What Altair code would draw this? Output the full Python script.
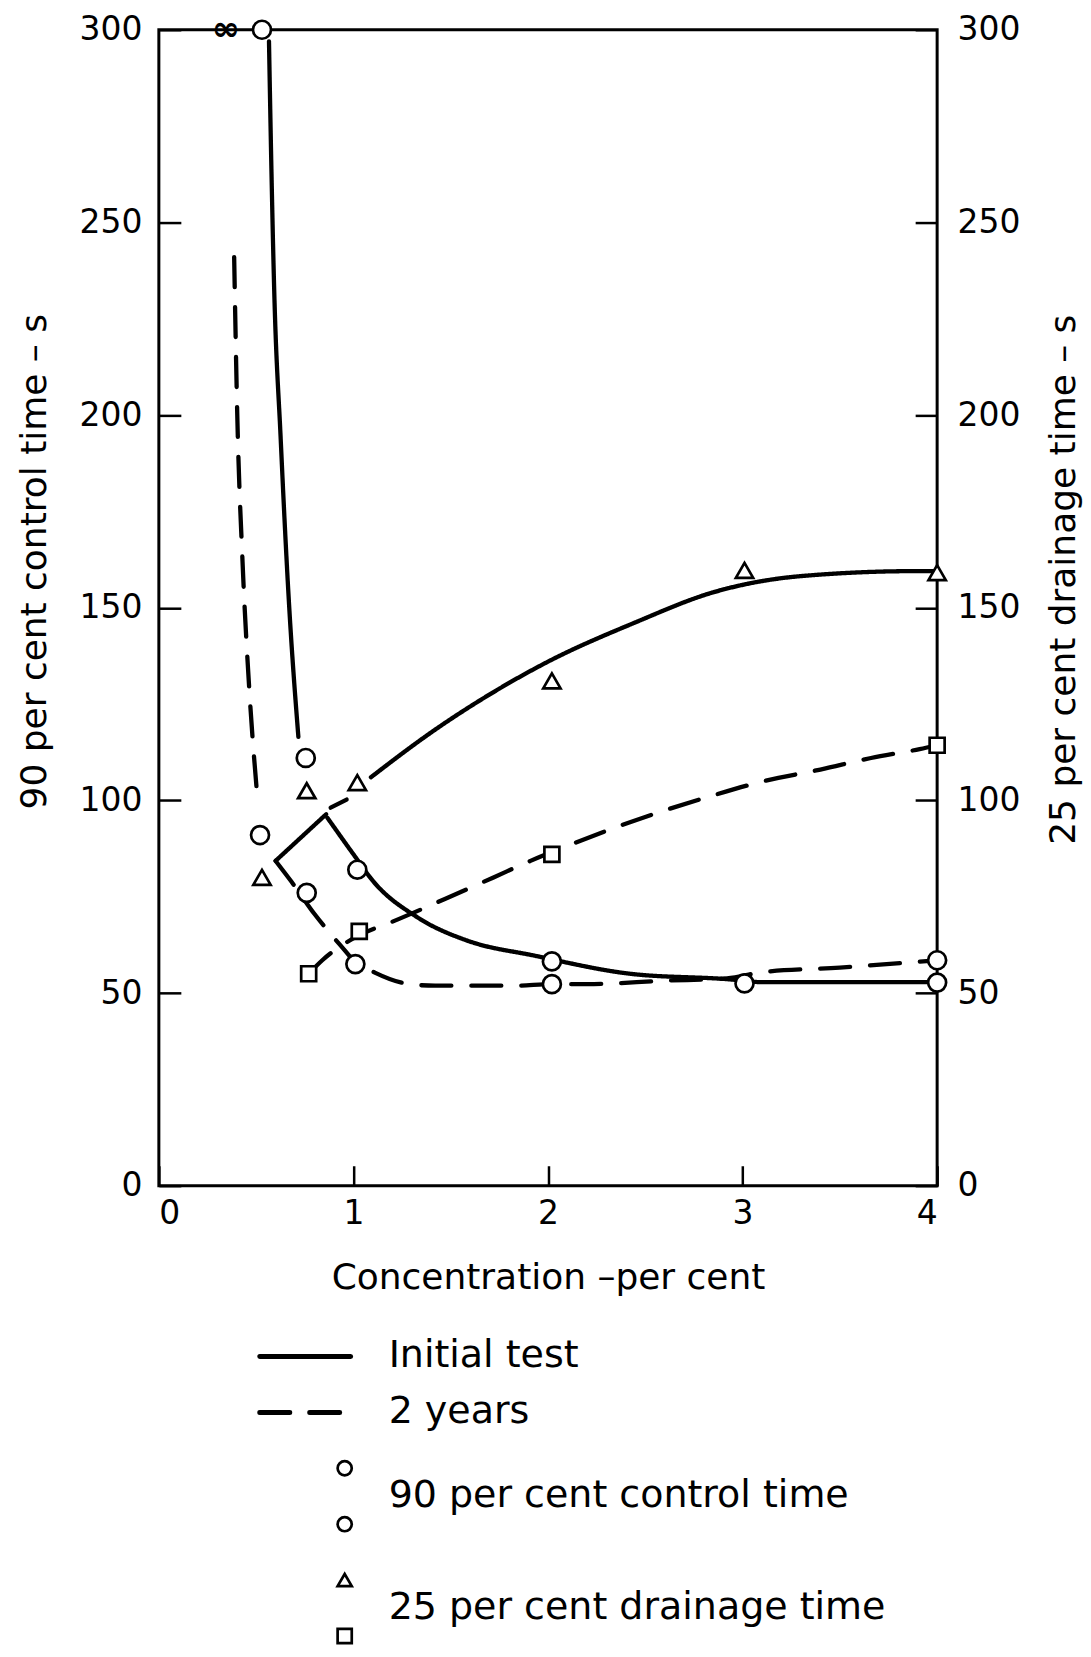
import altair as alt
import pandas as pd

W, H = 779, 1157

# ---------------- data ----------------
# 90 per cent control time (circles) - left axis
circ_x = [0.53, 0.52, 0.755, 0.76, 1.02, 1.01, 2.02, 2.02, 3.01, 4.0, 4.0]
circ_y = [300, 91, 111, 76, 82, 57.5, 58.2, 52.3, 52.5, 58.5, 52.7]
# infinity mark at top
inf_x = [0.345]
inf_y = [300]
inf_t = ["∞"]
# 25 per cent drainage time (triangles / squares) - right axis
tri_x = [0.53, 0.76, 1.02, 2.02, 3.01, 4.0]
tri_y = [80, 102.5, 104.6, 131, 159.7, 159.1]
sq_x = [0.77, 1.03, 2.02, 4.0]
sq_y = [55, 66, 86, 114.3]

# curves: (segment, style, xs, ys)
ctl_segments = [
    ("ctl_init_a", "Initial test",
     [0.566, 0.578, 0.592, 0.626, 0.669, 0.717],
     [297, 265, 234, 194, 151, 116.5]),
    ("ctl_init_b", "Initial test",
     [0.866, 1.0, 1.1, 1.33, 1.585, 1.93, 2.44, 2.92, 3.11, 4.0],
     [95.5, 86, 79.1, 69.6, 63.6, 59.7, 54.9, 53.6, 52.8, 52.8]),
    ("ctl_2y_a", "2 years",
     [0.387, 0.403, 0.43, 0.464, 0.507],
     [241, 200, 162, 129.4, 100.4]),
    ("ctl_2y_b", "2 years",
     [0.60, 0.68, 0.80, 0.89, 0.95, 1.0, 1.11, 1.29, 1.42, 1.83, 2.02, 2.2, 2.6, 2.92, 3.1, 3.5, 3.85, 4.0],
     [84.3, 79, 70.5, 64.9, 61.4, 58.5, 55.3, 52.3, 51.9, 51.9, 52.3, 52.3, 53.2, 53.8, 55.4, 56.6, 57.9, 58.5]),
]
dr_segments = [
    ("dr_init_a", "Initial test", [0.60, 0.86], [84.3, 96.4]),
    ("dr_init_b", "2 years", [0.883, 0.965], [98.1, 100.2]),
    ("dr_init_c", "Initial test",
     [1.09, 1.41, 1.75, 2.0, 2.44, 2.85, 3.3, 3.9, 4.0],
     [106, 118, 129, 136, 146, 154, 158.2, 159.5, 159.5]),
    ("dr_2y", "2 years",
     [0.77, 0.84, 1.03, 1.2, 1.47, 1.72, 1.91, 2.12, 2.54, 2.83, 3.11, 3.4, 3.66, 3.91, 4.0],
     [55, 58.5, 65, 68.5, 74.4, 80, 84.3, 88.6, 96.4, 101, 105, 108, 111, 113.3, 114.3]),
]

x_ticks = [0, 1, 2, 3, 4]
y_ticks = [0, 50, 100, 150, 200, 250, 300]

series_names = ["Initial test", "2 years"]
legend_rows_lines = [0, 1]
legend_text_rows = [0, 1, 2.5, 4.5]
legend_texts = ["Initial test", "2 years", "90 per cent control time", "25 per cent drainage time"]
legend_marker_rows = [2, 3, 4, 5]
legend_marker_shapes = ["circle", "circle", "triangle-up", "square"]


def seg_df(segs):
    rows = []
    for name, style, xs, ys in segs:
        for x, y in zip(xs, ys):
            rows.append({"seg": name, "style": style, "x": x, "y": y})
    return pd.DataFrame(rows)


ctl_lines = seg_df(ctl_segments)
dr_lines = seg_df(dr_segments)
circ_df = pd.DataFrame({"x": circ_x, "y": circ_y})
tri_df = pd.DataFrame({"x": tri_x, "y": tri_y})
sq_df = pd.DataFrame({"x": sq_x, "y": sq_y})
inf_df = pd.DataFrame({"x": inf_x, "y": inf_y, "t": inf_t})

FONT = "DejaVu Sans"

X = alt.X(
    "x:Q",
    scale=alt.Scale(domain=[0, 4], nice=False, zero=False),
    axis=alt.Axis(
        values=x_ticks, format="d", title="Concentration –per cent",
        grid=True, gridDash=[0, H - 20, 20, 5000], gridColor="black",
        gridWidth=2.5, gridOpacity=1, labelPadding=12,
        titleY=92, titleBaseline="middle",
    ),
)
Y_left = alt.Y(
    "y:Q",
    scale=alt.Scale(domain=[0, 300], nice=False),
    axis=alt.Axis(
        values=y_ticks, orient="left", title="90 per cent control time – s",
        grid=True, gridDash=[22, 5000], gridColor="black", gridWidth=2.5,
        gridOpacity=1, labelPadding=17,
        titleX=-124, titleY=532, titleAngle=270, titleBaseline="middle",
        titleAlign="center",
    ),
)
Y_right = alt.Y(
    "y:Q",
    scale=alt.Scale(domain=[0, 300], nice=False),
    axis=alt.Axis(
        values=y_ticks, orient="right", title="25 per cent drainage time – s",
        grid=True, gridDash=[22, 5000], gridColor="black", gridWidth=2.5,
        gridOpacity=1, labelPadding=20,
        titleX=126, titleY=550, titleAngle=270, titleBaseline="middle",
        titleAlign="center",
    ),
)

dash = alt.StrokeDash(
    "style:N",
    scale=alt.Scale(domain=series_names, range=[[1, 0], [30, 20]]),
    legend=None,
)

line_mark = dict(color="black", strokeWidth=4.3, interpolate="monotone", strokeCap="round")
pt = dict(filled=True, fill="white", stroke="black", strokeWidth=2.7, opacity=1)

ctl_line = alt.Chart(ctl_lines).mark_line(**line_mark).encode(
    x=X, y=Y_left, detail="seg:N", strokeDash=dash)
circles = alt.Chart(circ_df).mark_point(shape="circle", size=324, **pt).encode(x=X, y=Y_left)
inf_txt = alt.Chart(inf_df).mark_text(font=FONT, fontSize=34, fontWeight="bold", baseline="middle", color="black").encode(
    x=X, y=Y_left, text="t:N")

dr_line = alt.Chart(dr_lines).mark_line(**line_mark).encode(
    x=X, y=Y_right, detail="seg:N", strokeDash=dash)
tris = alt.Chart(tri_df).mark_point(shape="triangle-up", size=300, **pt).encode(x=X, y=Y_right)
sqs = alt.Chart(sq_df).mark_point(shape="square", size=225, **pt).encode(x=X, y=Y_right)

left = alt.layer(ctl_line, circles, inf_txt)
right = alt.layer(dr_line, tris, sqs)

main = alt.layer(left, right).resolve_scale(y="independent").properties(
    width=W, height=H,
    view=alt.ViewBackground(stroke="black", strokeWidth=3),
)

# ---------------- legend ----------------
LY = alt.Y("row:Q", scale=alt.Scale(domain=[-0.5, 5.13], reverse=True, nice=False, zero=False), axis=None)
leg_line_df = pd.DataFrame({"row": legend_rows_lines, "style": series_names})
leg_text_df = pd.DataFrame({"row": legend_text_rows, "t": legend_texts})
leg_mark_df = pd.DataFrame({"row": legend_marker_rows, "shape": legend_marker_shapes})

leg_lines = alt.Chart(leg_line_df).mark_rule(color="black", strokeWidth=5, strokeCap="round").encode(
    x=alt.value(101), x2=alt.value(192), y=LY,
    strokeDash=alt.StrokeDash("style:N", scale=alt.Scale(domain=series_names, range=[[1, 0], [21, 14]]), legend=None),
)
leg_marks = alt.Chart(leg_mark_df).mark_point(size=200, **pt).encode(
    x=alt.value(186), y=LY,
    shape=alt.Shape("shape:N", scale=alt.Scale(domain=["circle", "triangle-up", "square"],
                                                range=["circle", "triangle-up", "square"]), legend=None),
)
leg_text = alt.Chart(leg_text_df).mark_text(font=FONT, fontSize=38, align="left", baseline="middle", color="black").encode(
    x=alt.value(230), y=LY, text="t:N")

legend = alt.layer(leg_lines, leg_marks, leg_text).properties(
    width=760, height=315, view=alt.ViewBackground(stroke=None, strokeWidth=0))

chart = alt.vconcat(main, legend, spacing=31).properties(
    padding={"left": 7, "top": 2, "right": 0, "bottom": 0}
).configure_axis(
    domain=False, ticks=False,
    labelFont=FONT, labelFontSize=33, labelColor="black",
    titleFont=FONT, titleFontSize=36, titleFontWeight="normal", titleColor="black",
).configure_view(stroke=None)

chart.save("out.html", embed_options={"renderer": "svg", "actions": False})
